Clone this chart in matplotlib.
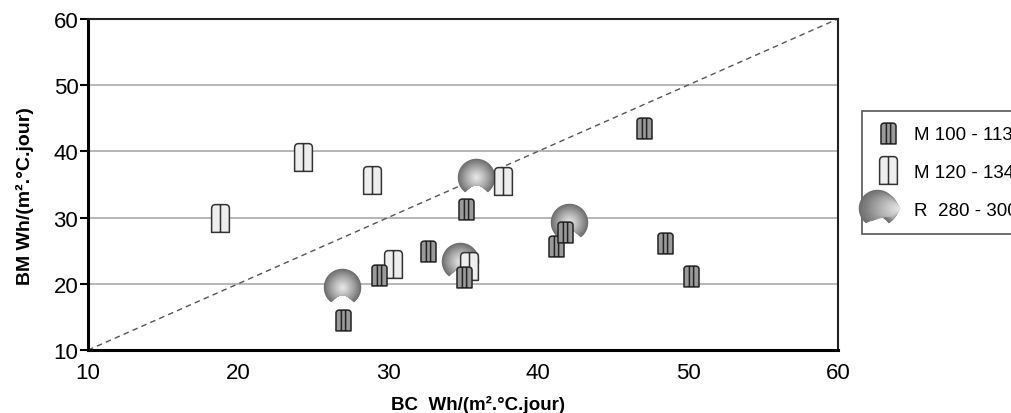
import numpy as np
import matplotlib.pyplot as plt
from matplotlib.path import Path
from matplotlib.lines import Line2D
from matplotlib.legend_handler import HandlerTuple

plt.rcParams['font.family'] = ['Liberation Sans', 'DejaVu Sans']

# data
m100_x = [27.0, 29.4, 32.7, 35.2, 35.1, 41.2, 41.8, 47.1, 48.5, 50.2]
m100_y = [14.6, 21.4, 24.9, 31.3, 21.0, 25.7, 27.8, 43.6, 26.2, 21.2]
m120_x = [18.8, 24.35, 28.9, 30.3, 35.4, 37.7]
m120_y = [30.0, 39.1, 35.7, 23.0, 22.7, 35.5]
r280_x = [26.9, 35.9, 34.8, 42.1]
r280_y = [19.5, 36.1, 23.4, 29.3]
labels = ['M 100 - 113', 'M 120 - 134', 'R  280 - 300']
ticks = [10, 20, 30, 40, 50, 60]


def box_path(a, lines):
    # rounded-top cabinet shape, half-height 1, half-width a
    rx, ry = 0.45 * a, 0.3
    verts = [(-a, -1), (-a, 1 - ry), (-a, 1), (-a + rx, 1), (a - rx, 1),
             (a, 1), (a, 1 - ry), (a, -1), (-a, -1)]
    codes = [Path.MOVETO, Path.LINETO, Path.CURVE3, Path.CURVE3, Path.LINETO,
             Path.CURVE3, Path.CURVE3, Path.LINETO, Path.CLOSEPOLY]
    for lx in lines:
        verts += [(lx * a, 0.97), (lx * a, -1)]
        codes += [Path.MOVETO, Path.LINETO]
    return Path(verts, codes)


def sphere_layer(s):
    # disc of radius s cut by the notch at the bottom of the ball
    t = np.linspace(0, 2 * np.pi, 120, endpoint=False)
    x = s * np.cos(t)
    y = s * np.sin(t)
    notch = -0.42 - 1.056 * x ** 2
    y = np.maximum(y, notch)
    # lone moveto at (0, 1) keeps the marker scale the same for every layer
    verts = [(0, 1)] + list(zip(x, y)) + [(x[0], y[0])]
    codes = [Path.MOVETO, Path.MOVETO] + [Path.LINETO] * (len(x) - 1) + [Path.CLOSEPOLY]
    return Path(verts, codes)


light_box = box_path(0.64, [0.0])
dark_box = box_path(0.72, [-0.28, 0.28])

fig = plt.figure(figsize=(10.12, 4.14), dpi=100)
ax = fig.add_axes([0.087, 0.152, 0.741, 0.8])
ax.set_xlim(10, 60)
ax.set_ylim(10, 60)

for yv in ticks[1:-1]:
    ax.axhline(yv, color='#aaaaaa', lw=1.2, zorder=1)
ax.plot([10, 60], [10, 60], color='#555555', lw=1, dashes=(4, 3), zorder=2)

# spheres as stacked layers to fake a radial gradient
n_layers = 22
sphere_handles = []
for i in range(n_layers):
    s = 1 - i / n_layers
    g = 0.91 - 0.48 * s ** 1.2
    mk = sphere_layer(s)
    ax.plot(r280_x, r280_y, ls='none', marker=mk, ms=27,
            mfc=(g, g, g), mec='none', zorder=3 + i * 0.01)
    sphere_handles.append(Line2D([], [], ls='none', marker=mk, ms=27,
                                 mfc=(g, g, g), mec='none'))

ax.plot(m120_x, m120_y, ls='none', marker=light_box, ms=20,
        mfc='#eeeeee', mec='#333333', mew=1.1, zorder=5)
ax.plot(m100_x, m100_y, ls='none', marker=dark_box, ms=15,
        mfc='#9a9a9a', mec='#222222', mew=1.1, zorder=6)

ax.set_xticks(ticks)
ax.set_yticks(ticks)
ax.tick_params(axis='x', length=0, pad=8.5, labelsize=16)
ax.tick_params(axis='y', length=6, width=1.5, pad=1, labelsize=16)
for side in ['left', 'bottom']:
    ax.spines[side].set_linewidth(2.2)
for side in ['top', 'right']:
    ax.spines[side].set_linewidth(1.5)
    ax.spines[side].set_color('#222222')

ax.set_xlabel('BC  Wh/(m².°C.jour)', fontsize=13.5, fontweight='bold')
ax.xaxis.set_label_coords(0.52, -0.136)
ax.set_ylabel('BM Wh/(m².°C.jour)', fontsize=14, fontweight='bold')
ax.yaxis.set_label_coords(-0.072, 0.468)

h1 = Line2D([], [], ls='none', marker=dark_box, ms=15,
            mfc='#9a9a9a', mec='#222222', mew=1.1)
h2 = Line2D([], [], ls='none', marker=light_box, ms=20,
            mfc='#eeeeee', mec='#333333', mew=1.1)
leg = ax.legend([h1, h2, tuple(sphere_handles)], labels,
                handler_map={tuple: HandlerTuple(ndivide=None, pad=0)},
                loc='upper left', bbox_to_anchor=(1.032, 0.722),
                borderaxespad=0, fontsize=13.5, labelspacing=1.1,
                handlelength=1.2, handletextpad=0.8, borderpad=0.8,
                fancybox=False, framealpha=1, edgecolor='#555555')
leg.get_frame().set_linewidth(1.2)

fig.savefig('out.png', dpi=100)
